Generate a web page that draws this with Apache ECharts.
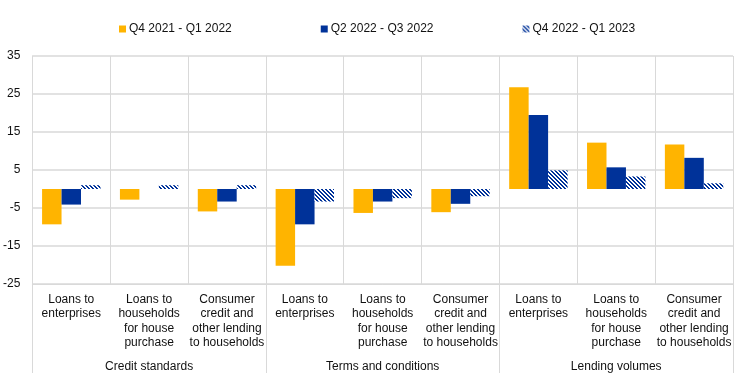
<!DOCTYPE html>
<html>
<head>
<meta charset="utf-8">
<script src="https://cdn.jsdelivr.net/npm/echarts@6/dist/echarts.min.js"></script>
<style>
html,body{margin:0;padding:0;background:#fff;}
#chart{width:744px;height:384px;}
</style>
</head>
<body>
<div id="chart"></div>
<script>
const categories = [
  "Loans to\nenterprises", "Loans to\nhouseholds\nfor house\npurchase", "Consumer\ncredit and\nother lending\nto households",
  "Loans to\nenterprises", "Loans to\nhouseholds\nfor house\npurchase", "Consumer\ncredit and\nother lending\nto households",
  "Loans to\nenterprises", "Loans to\nhouseholds\nfor house\npurchase", "Consumer\ncredit and\nother lending\nto households"
];
const groups = ["Credit standards", "Terms and conditions", "Lending volumes"];
const seriesNames = ["Q4 2021 - Q1 2022", "Q2 2022 - Q3 2022", "Q4 2022 - Q1 2023"];
const s1 = [-9.3, -2.8, -5.9, -20.2, -6.3, -6.1, 26.8, 12.2, 11.7];
const s2 = [-4.1, 0, -3.3, -9.3, -3.3, -3.9, 19.5, 5.7, 8.2];
const s3 = [1.0, 1.0, 1.0, -3.3, -2.4, -1.9, 4.9, 3.3, 1.5];
const yMin = -25, yMax = 35, yInterval = 10;

const YELLOW = '#FFB400', BLUE = '#003299', GRID = '#d9d9d9', TEXT = '#111';

function makeHatch() {
  const c = document.createElement('canvas');
  c.width = 4; c.height = 4;
  const ctx = c.getContext('2d');
  ctx.fillStyle = '#fff';
  ctx.fillRect(0, 0, 4, 4);
  ctx.fillStyle = BLUE;
  for (let y = 0; y < 4; y++) {
    ctx.fillRect(y, y, 1, 1);
    ctx.fillRect((y + 1) % 4, y, 1, 1);
  }
  return c;
}
const hatch = { image: makeHatch(), repeat: 'repeat' };

const chart = echarts.init(document.getElementById('chart'), null, { renderer: 'canvas' });
const font = 'Liberation Sans, Arial, sans-serif';
chart.setOption({
  animation: false,
  textStyle: { fontFamily: font },
  legend: {
    top: 18, left: 114,
    itemWidth: 7, itemHeight: 7, itemGap: 89,
    icon: 'rect',
    textStyle: { fontSize: 12, color: TEXT, fontFamily: font, padding: [0, 0, 0, -2] },
    data: seriesNames
  },
  grid: { left: 32, right: 11, top: 56, bottom: 100, containLabel: false },
  xAxis: [
    {
      type: 'category', data: categories, position: 'bottom', offset: 0,
      axisLine: { show: true, onZero: false, lineStyle: { color: GRID, width: 1 } },
      axisTick: { show: false },
      splitLine: { show: true, lineStyle: { color: GRID, width: 1 } },
      axisLabel: { interval: 0, margin: 8, fontSize: 12, lineHeight: 14.5, color: TEXT, fontFamily: font, align: 'center' }
    },
    {
      type: 'category', data: groups, position: 'bottom', offset: 0,
      axisLine: { show: false, onZero: false },
      axisTick: { show: true, length: 89, lineStyle: { color: GRID, width: 1 } },
      splitLine: { show: false },
      axisLabel: { interval: 0, margin: 77, fontSize: 12, color: TEXT, fontFamily: font }
    }
  ],
  yAxis: {
    type: 'value', min: yMin, max: yMax, interval: yInterval,
    axisLine: { show: true, lineStyle: { color: GRID, width: 1 } },
    axisTick: { show: false },
    splitLine: { show: true, lineStyle: { color: GRID, width: 1.5 } },
    axisLabel: { margin: 12, fontSize: 12, color: TEXT, fontFamily: font }
  },
  series: [
    { name: seriesNames[0], type: 'bar', data: s1, barGap: '0%', barCategoryGap: '25%', itemStyle: { color: YELLOW } },
    { name: seriesNames[1], type: 'bar', data: s2, barGap: '0%', barCategoryGap: '25%', itemStyle: { color: BLUE } },
    { name: seriesNames[2], type: 'bar', data: s3, barGap: '0%', barCategoryGap: '25%', itemStyle: { color: hatch } }
  ]
});
</script>
</body>
</html>
